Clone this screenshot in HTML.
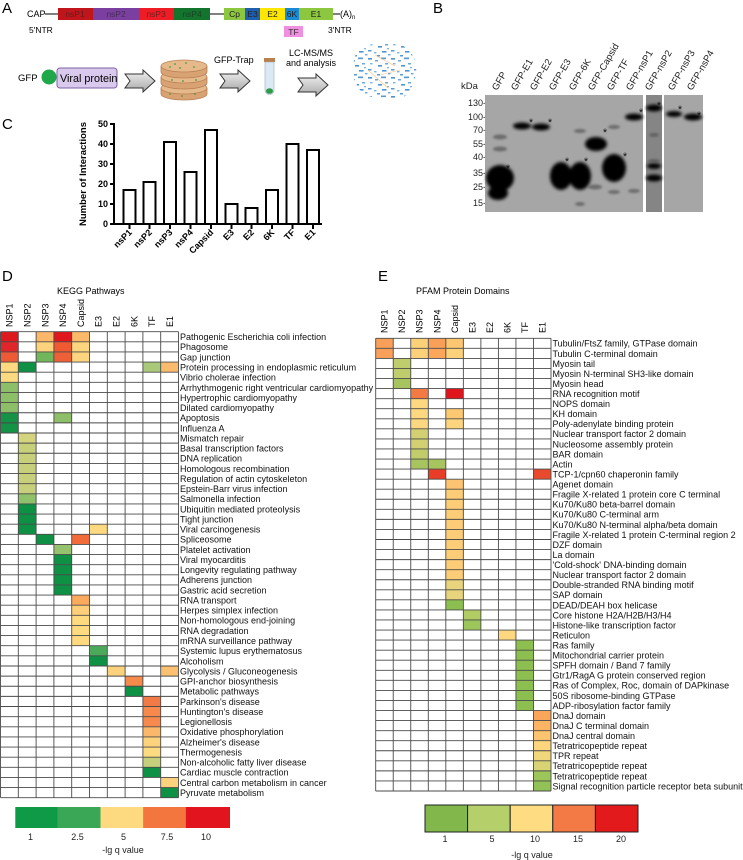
<!DOCTYPE html>
<html><head><meta charset="utf-8"><style>
html,body{margin:0;padding:0;background:#fff;}
svg{display:block;font-family:"Liberation Sans",Arial,sans-serif;}
</style></head><body>
<svg width="743" height="860" viewBox="0 0 743 860" xmlns="http://www.w3.org/2000/svg">
<defs>
<linearGradient id="arr" x1="0" y1="0" x2="0" y2="1"><stop offset="0" stop-color="#f2f2f2"/><stop offset="1" stop-color="#a8a8a8"/></linearGradient>
<pattern id="net" width="23" height="19" patternUnits="userSpaceOnUse">
<rect x="0" y="1" width="4" height="1.6" fill="#4f93d2"/><rect x="7" y="3" width="3" height="1.5" fill="#6aa8de"/><rect x="13" y="0.5" width="5" height="1.7" fill="#5a9bd5"/>
<rect x="2" y="6" width="2.5" height="1.4" fill="#7fb4e4"/><rect x="10" y="8" width="4" height="1.6" fill="#4f93d2"/><rect x="17" y="6" width="3" height="1.5" fill="#6aa8de"/>
<rect x="0" y="12" width="3.5" height="1.5" fill="#5a9bd5"/><rect x="6" y="14" width="2.5" height="1.4" fill="#7fb4e4"/><rect x="14" y="13" width="4.5" height="1.6" fill="#4f93d2"/>
<rect x="20" y="16" width="2.5" height="1.4" fill="#6aa8de"/><rect x="9" y="17" width="3" height="1.5" fill="#5a9bd5"/><rect x="19" y="10" width="2" height="1.3" fill="#7fb4e4"/>
</pattern>
<filter id="bl" x="-50%" y="-50%" width="200%" height="200%"><feGaussianBlur stdDeviation="1.6"/></filter>
<filter id="bl2" x="-50%" y="-50%" width="200%" height="200%"><feGaussianBlur stdDeviation="1"/></filter>
</defs>

<!-- Panel A -->
<text x="2" y="13" font-size="15">A</text>
<text x="27" y="17" font-size="9">CAP</text>
<line x1="45" y1="14" x2="58" y2="14" stroke="#000" stroke-width="1"/>
<rect x="58" y="8" width="35" height="12" fill="#c0161b"/>
<rect x="93" y="8" width="46" height="12" fill="#7b3fa0"/>
<rect x="139" y="8" width="35" height="12" fill="#ee1c24"/>
<rect x="174" y="8" width="36" height="12" fill="#13752d"/>
<line x1="210" y1="14" x2="224" y2="14" stroke="#000" stroke-width="1"/>
<rect x="224" y="8" width="21" height="12" fill="#8dc63f"/>
<rect x="245" y="8" width="15" height="12" fill="#1f5fb0"/>
<rect x="260" y="8" width="25" height="12" fill="#ffe600"/>
<rect x="285" y="8" width="14" height="12" fill="#1a8ad4"/>
<rect x="299" y="8" width="34" height="12" fill="#8dc63f"/>
<line x1="333" y1="14" x2="340" y2="14" stroke="#000" stroke-width="1"/>
<g font-size="8.5" text-anchor="middle" fill="#222">
<text x="75" y="17" fill-opacity="0.6">nsP1</text>
<text x="116" y="17" fill-opacity="0.6">nsP2</text>
<text x="156" y="17" fill-opacity="0.6">nsP3</text>
<text x="192" y="17" fill-opacity="0.6">nsP4</text>
<text x="234.5" y="17">Cp</text>
<text x="252.5" y="17">E3</text>
<text x="272.5" y="17">E2</text>
<text x="292" y="17">6K</text>
<text x="316" y="17">E1</text>
</g>
<text x="340" y="17" font-size="9">(A)<tspan font-size="6" dy="2">n</tspan></text>
<text x="29" y="33" font-size="8.5">5'NTR</text>
<text x="328" y="33" font-size="8.5">3'NTR</text>
<rect x="284" y="26" width="19" height="11" fill="#f08ee0"/>
<text x="293.5" y="35" font-size="8.5" text-anchor="middle" fill="#333">TF</text>

<text x="18" y="81" font-size="9.5">GFP</text>
<circle cx="49" cy="77" r="7.5" fill="#1ea84a"/>
<rect x="57" y="68" width="60" height="20" rx="3" fill="#d9c9ec" stroke="#7f62a3" stroke-width="1"/>
<text x="60" y="82" font-size="10.8">Viral protein</text>
<path d="M125,74 L143,74 L143,70 L155,81 L143,92 L143,88 L125,88 L130,81 Z" fill="url(#arr)" stroke="#333" stroke-width="1"/>
<!-- petri dishes -->
<g stroke="#b98157" stroke-width="0.8">
<path d="M161,88 L161,94 A23,6 0 0 0 207,94 L207,88 Z" fill="#d9a272"/>
<ellipse cx="184" cy="88" rx="23" ry="6" fill="#e6b98b"/>
<path d="M161,77 L161,83 A23,6 0 0 0 207,83 L207,77 Z" fill="#d9a272"/>
<ellipse cx="184" cy="77" rx="23" ry="6" fill="#e6b98b"/>
<path d="M161,66 L161,72 A23,6 0 0 0 207,72 L207,66 Z" fill="#d9a272"/>
<ellipse cx="184" cy="66" rx="23" ry="6" fill="#e6b98b"/>
</g>
<g fill="#4a9a45">
<circle cx="175" cy="64" r="0.9"/><circle cx="186" cy="63" r="0.9"/><circle cx="194" cy="67" r="0.9"/><circle cx="180" cy="68" r="0.9"/><circle cx="170" cy="67" r="0.9"/>
<circle cx="172" cy="80" r="0.9"/><circle cx="183" cy="81" r="0.9"/><circle cx="196" cy="80" r="0.9"/>
<circle cx="170" cy="94" r="0.9"/><circle cx="182" cy="96" r="0.9"/><circle cx="195" cy="94" r="0.9"/>
</g>
<text x="214" y="63" font-size="9">GFP-Trap</text>
<path d="M220,74 L238,74 L238,70 L250,81 L238,92 L238,88 L220,88 L225,81 Z" fill="url(#arr)" stroke="#333" stroke-width="1"/>
<!-- tube -->
<rect x="264" y="58" width="11" height="4" fill="#b8804a"/>
<path d="M265,62 L274,62 L274,90 A4.5,4.5 0 0 1 265,90 Z" fill="#dbe9f5" stroke="#9ab" stroke-width="0.6"/>
<ellipse cx="269.5" cy="91" rx="3.5" ry="2.8" fill="#2e9a48"/>
<text x="311" y="56" font-size="9" text-anchor="middle">LC-MS/MS</text>
<text x="311" y="66" font-size="9" text-anchor="middle">and analysis</text>
<path d="M298,78 L316,78 L316,74 L328,85 L316,96 L316,92 L298,92 L303,85 Z" fill="url(#arr)" stroke="#333" stroke-width="1"/>
<!-- network -->
<path d="M354,64 C352,52 366,42 380,44 C392,38 410,46 414,58 C420,70 412,80 414,88 C410,98 394,100 384,97 C370,100 358,92 356,82 C350,76 356,70 354,64 Z" fill="url(#net)"/>
<g stroke="#f0b060" stroke-width="0.6" opacity="0.8">
<line x1="375" y1="55" x2="395" y2="66"/><line x1="380" y1="75" x2="400" y2="70"/><line x1="368" y1="70" x2="388" y2="88"/>
</g>

<!-- Panel B -->
<text x="433" y="13" font-size="15">B</text>
<g font-size="9.5" fill="#222">
<text transform="translate(497,91) rotate(-60)">GFP</text>
<text transform="translate(516,91) rotate(-60)">GFP-E1</text>
<text transform="translate(535,91) rotate(-60)">GFP-E2</text>
<text transform="translate(554,91) rotate(-60)">GFP-E3</text>
<text transform="translate(574,91) rotate(-60)">GFP-6K</text>
<text transform="translate(593,91) rotate(-60)">GFP-Capsid</text>
<text transform="translate(612,91) rotate(-60)">GFP-TF</text>
<text transform="translate(631,91) rotate(-60)">GFP-nsP1</text>
<text transform="translate(650,91) rotate(-60)">GFP-nsP2</text>
<text transform="translate(673,91) rotate(-60)">GFP-nsP3</text>
<text transform="translate(692,91) rotate(-60)">GFP-nsP4</text>
</g>
<text x="461" y="89" font-size="9.5" fill="#222">kDa</text>
<g font-size="9" fill="#222" text-anchor="end">
<text x="486" y="106">130-</text>
<text x="486" y="120">100-</text>
<text x="486" y="133">70-</text>
<text x="486" y="147">55-</text>
<text x="486" y="160">40-</text>
<text x="486" y="176">35-</text>
<text x="486" y="190">25-</text>
<text x="486" y="206">15-</text>
</g>
<rect x="485" y="95" width="158" height="117" fill="#a6a6a6"/>
<rect x="646" y="95" width="16" height="117" fill="#858585"/>
<rect x="664" y="95" width="39" height="117" fill="#a6a6a6"/>
<g fill="#000" filter="url(#bl)">
<ellipse cx="500" cy="178" rx="14" ry="13"/>
<ellipse cx="498" cy="193" rx="10" ry="7"/>
<ellipse cx="522" cy="126" rx="9" ry="3.5"/>
<ellipse cx="541" cy="127" rx="9" ry="3.5"/>
<ellipse cx="561" cy="176" rx="11" ry="14"/>
<ellipse cx="580" cy="176" rx="11" ry="14"/>
<ellipse cx="596" cy="144" rx="11" ry="7"/>
<ellipse cx="614" cy="168" rx="12" ry="14"/>
<ellipse cx="634" cy="117" rx="9" ry="3.5"/>
<ellipse cx="654" cy="108" rx="8" ry="3.5"/>
<ellipse cx="654" cy="166" rx="7" ry="3"/>
<ellipse cx="654" cy="178" rx="8" ry="3.5"/>
<ellipse cx="674" cy="114" rx="8" ry="3"/>
<ellipse cx="693" cy="117" rx="9" ry="3.5"/>
</g>
<g fill="#555" filter="url(#bl2)" opacity="0.7">
<ellipse cx="500" cy="137" rx="7" ry="2.5"/>
<ellipse cx="500" cy="149" rx="7" ry="2.5"/>
<ellipse cx="595" cy="187" rx="7" ry="2.5"/>
<ellipse cx="580" cy="131" rx="6" ry="2"/>
<ellipse cx="614" cy="127" rx="6" ry="2"/>
<ellipse cx="634" cy="191" rx="6" ry="2"/>
<ellipse cx="614" cy="192" rx="6" ry="2"/>
<ellipse cx="580" cy="204" rx="5" ry="2"/>
<ellipse cx="654" cy="161" rx="6" ry="2"/>
<ellipse cx="654" cy="135" rx="5" ry="2"/>
</g>
<g font-size="11" fill="#111" text-anchor="middle">
<text x="508" y="172">*</text>
<text x="531" y="126">*</text>
<text x="550" y="126">*</text>
<text x="567" y="165">*</text>
<text x="586" y="165">*</text>
<text x="605" y="136">*</text>
<text x="625" y="160">*</text>
<text x="641" y="116">*</text>
<text x="659" y="109">*</text>
<text x="680" y="113">*</text>
<text x="699" y="119">*</text>
</g>

<!-- Panel C -->
<text x="2" y="129" font-size="15">C</text>
<text transform="translate(86,174) rotate(-90)" font-size="9.5" font-weight="bold" text-anchor="middle">Number of Interactions</text>
<g font-size="9" font-weight="bold" text-anchor="end">
<text x="108" y="127">50</text>
<text x="108" y="147">40</text>
<text x="108" y="167">30</text>
<text x="108" y="187">20</text>
<text x="108" y="207">10</text>
<text x="108" y="227">0</text>
</g>
<g stroke="#000" stroke-width="2" fill="#fff">
<line x1="114" y1="123" x2="114" y2="225"/>
<line x1="110" y1="124" x2="114" y2="124"/><line x1="110" y1="144" x2="114" y2="144"/><line x1="110" y1="164" x2="114" y2="164"/><line x1="110" y1="184" x2="114" y2="184"/><line x1="110" y1="204" x2="114" y2="204"/><line x1="110" y1="224" x2="114" y2="224"/>
<rect x="123.5" y="190" width="12" height="34"/>
<rect x="143.5" y="182" width="12" height="42"/>
<rect x="164" y="142" width="12" height="82"/>
<rect x="184.5" y="172" width="12" height="52"/>
<rect x="205" y="130" width="12" height="94"/>
<rect x="225.5" y="204" width="12" height="20"/>
<rect x="245.5" y="208" width="12" height="16"/>
<rect x="266" y="190" width="12" height="34"/>
<rect x="286.5" y="144" width="12" height="80"/>
<rect x="307" y="150" width="12" height="74"/>
<line x1="113" y1="224" x2="322" y2="224"/>
<line x1="129.5" y1="224" x2="129.5" y2="229"/><line x1="149.5" y1="224" x2="149.5" y2="229"/><line x1="170" y1="224" x2="170" y2="229"/><line x1="190.5" y1="224" x2="190.5" y2="229"/><line x1="211" y1="224" x2="211" y2="229"/><line x1="231.5" y1="224" x2="231.5" y2="229"/><line x1="251.5" y1="224" x2="251.5" y2="229"/><line x1="272" y1="224" x2="272" y2="229"/><line x1="292.5" y1="224" x2="292.5" y2="229"/><line x1="313" y1="224" x2="313" y2="229"/>
</g>
<g font-size="9" font-weight="bold" text-anchor="end">
<text transform="translate(132.5,233) rotate(-45)">nsP1</text>
<text transform="translate(152.5,233) rotate(-45)">nsP2</text>
<text transform="translate(173,233) rotate(-45)">nsP3</text>
<text transform="translate(193.5,233) rotate(-45)">nsP4</text>
<text transform="translate(214,233) rotate(-45)">Capsid</text>
<text transform="translate(234.5,233) rotate(-45)">E3</text>
<text transform="translate(254.5,233) rotate(-45)">E2</text>
<text transform="translate(275,233) rotate(-45)">6K</text>
<text transform="translate(295.5,233) rotate(-45)">TF</text>
<text transform="translate(316,233) rotate(-45)">E1</text>
</g>

<!-- Panel D -->
<text x="2" y="281" font-size="15">D</text>
<text x="57" y="294" font-size="9">KEGG Pathways</text>
<g font-size="9">
<text transform="translate(12.7,327) rotate(-90)">NSP1</text>
<text transform="translate(30.5,327) rotate(-90)">NSP2</text>
<text transform="translate(48.3,327) rotate(-90)">NSP3</text>
<text transform="translate(66.1,327) rotate(-90)">NSP4</text>
<text transform="translate(83.9,327) rotate(-90)">Capsid</text>
<text transform="translate(101.7,327) rotate(-90)">E3</text>
<text transform="translate(119.5,327) rotate(-90)">E2</text>
<text transform="translate(137.3,327) rotate(-90)">6K</text>
<text transform="translate(155.1,327) rotate(-90)">TF</text>
<text transform="translate(172.9,327) rotate(-90)">E1</text>
</g>
<g transform="translate(0.5,331.7) scale(17.8,10.13)">
<rect x="0" y="0" width="1" height="1" fill="#de1a1e"/><rect x="2" y="0" width="1" height="1" fill="#fbb76a"/><rect x="3" y="0" width="1" height="1" fill="#e0181d"/><rect x="4" y="0" width="1" height="1" fill="#fbb96a"/>
<rect x="0" y="1" width="1" height="1" fill="#e0262a"/><rect x="2" y="1" width="1" height="1" fill="#fdd27c"/><rect x="3" y="1" width="1" height="1" fill="#ef5a33"/><rect x="4" y="1" width="1" height="1" fill="#fdd57e"/>
<rect x="0" y="2" width="1" height="1" fill="#ec5b36"/><rect x="2" y="2" width="1" height="1" fill="#72b65c"/><rect x="3" y="2" width="1" height="1" fill="#ee6038"/><rect x="4" y="2" width="1" height="1" fill="#fdd57e"/>
<rect x="0" y="3" width="1" height="1" fill="#fdd980"/><rect x="1" y="3" width="1" height="1" fill="#0f9145"/><rect x="8" y="3" width="1" height="1" fill="#a9c979"/><rect x="9" y="3" width="1" height="1" fill="#fbbb6d"/>
<rect x="0" y="4" width="1" height="1" fill="#fdd980"/>
<rect x="0" y="5" width="1" height="3" fill="#8dbf68"/>
<rect x="0" y="8" width="1" height="2" fill="#149246"/><rect x="3" y="8" width="1" height="1" fill="#8dbf68"/>
<rect x="1" y="10" width="1" height="1" fill="#d4d47f"/>
<rect x="1" y="11" width="1" height="5" fill="#c8cf7a"/>
<rect x="1" y="16" width="1" height="1" fill="#8fc06a"/>
<rect x="1" y="17" width="1" height="3" fill="#0f9145"/>
<rect x="5" y="19" width="1" height="1" fill="#fdd980"/>
<rect x="2" y="20" width="1" height="1" fill="#0f9145"/><rect x="4" y="20" width="1" height="1" fill="#f26b3a"/>
<rect x="3" y="21" width="1" height="1" fill="#95c26c"/>
<rect x="3" y="22" width="1" height="4" fill="#0f9145"/>
<rect x="4" y="26" width="1" height="1" fill="#fba95c"/>
<rect x="4" y="27" width="1" height="1" fill="#fdcf7a"/>
<rect x="4" y="28" width="1" height="3" fill="#fdd980"/>
<rect x="5" y="31" width="1" height="1" fill="#4aaa5a"/>
<rect x="5" y="32" width="1" height="1" fill="#0f9145"/>
<rect x="6" y="33" width="1" height="1" fill="#fdd27c"/><rect x="9" y="33" width="1" height="1" fill="#fbc070"/>
<rect x="7" y="34" width="1" height="1" fill="#f68a4b"/>
<rect x="7" y="35" width="1" height="1" fill="#0f9145"/>
<rect x="8" y="36" width="1" height="1" fill="#f47a45"/>
<rect x="8" y="37" width="1" height="2" fill="#f6894b"/>
<rect x="8" y="39" width="1" height="1" fill="#fbb86b"/>
<rect x="8" y="40" width="1" height="1" fill="#fdd27c"/>
<rect x="8" y="41" width="1" height="1" fill="#fdd980"/>
<rect x="8" y="42" width="1" height="1" fill="#c5cf7c"/>
<rect x="8" y="43" width="1" height="1" fill="#0f9145"/>
<rect x="9" y="44" width="1" height="1" fill="#fdd27c"/>
<rect x="9" y="45" width="1" height="1" fill="#0f9145"/>
<path fill="none" stroke="#4a4a4a" stroke-width="0.9" vector-effect="non-scaling-stroke" d="M0 0H10M0 1H10M0 2H10M0 3H10M0 4H10M0 5H10M0 6H10M0 7H10M0 8H10M0 9H10M0 10H10M0 11H10M0 12H10M0 13H10M0 14H10M0 15H10M0 16H10M0 17H10M0 18H10M0 19H10M0 20H10M0 21H10M0 22H10M0 23H10M0 24H10M0 25H10M0 26H10M0 27H10M0 28H10M0 29H10M0 30H10M0 31H10M0 32H10M0 33H10M0 34H10M0 35H10M0 36H10M0 37H10M0 38H10M0 39H10M0 40H10M0 41H10M0 42H10M0 43H10M0 44H10M0 45H10M0 46H10M0 0V46M1 0V46M2 0V46M3 0V46M4 0V46M5 0V46M6 0V46M7 0V46M8 0V46M9 0V46M10 0V46"/>
</g>
<text x="180" y="340.1" font-size="9" fill="#111">
<tspan x="180">Pathogenic Escherichia coli infection</tspan>
<tspan x="180" dy="10.13">Phagosome</tspan>
<tspan x="180" dy="10.13">Gap junction</tspan>
<tspan x="180" dy="10.13">Protein processing in endoplasmic reticulum</tspan>
<tspan x="180" dy="10.13">Vibrio cholerae infection</tspan>
<tspan x="180" dy="10.13">Arrhythmogenic right ventricular cardiomyopathy</tspan>
<tspan x="180" dy="10.13">Hypertrophic cardiomyopathy</tspan>
<tspan x="180" dy="10.13">Dilated cardiomyopathy</tspan>
<tspan x="180" dy="10.13">Apoptosis</tspan>
<tspan x="180" dy="10.13">Influenza A</tspan>
<tspan x="180" dy="10.13">Mismatch repair</tspan>
<tspan x="180" dy="10.13">Basal transcription factors</tspan>
<tspan x="180" dy="10.13">DNA replication</tspan>
<tspan x="180" dy="10.13">Homologous recombination</tspan>
<tspan x="180" dy="10.13">Regulation of actin cytoskeleton</tspan>
<tspan x="180" dy="10.13">Epstein-Barr virus infection</tspan>
<tspan x="180" dy="10.13">Salmonella infection</tspan>
<tspan x="180" dy="10.13">Ubiquitin mediated proteolysis</tspan>
<tspan x="180" dy="10.13">Tight junction</tspan>
<tspan x="180" dy="10.13">Viral carcinogenesis</tspan>
<tspan x="180" dy="10.13">Spliceosome</tspan>
<tspan x="180" dy="10.13">Platelet activation</tspan>
<tspan x="180" dy="10.13">Viral myocarditis</tspan>
<tspan x="180" dy="10.13">Longevity regulating pathway</tspan>
<tspan x="180" dy="10.13">Adherens junction</tspan>
<tspan x="180" dy="10.13">Gastric acid secretion</tspan>
<tspan x="180" dy="10.13">RNA transport</tspan>
<tspan x="180" dy="10.13">Herpes simplex infection</tspan>
<tspan x="180" dy="10.13">Non-homologous end-joining</tspan>
<tspan x="180" dy="10.13">RNA degradation</tspan>
<tspan x="180" dy="10.13">mRNA surveillance pathway</tspan>
<tspan x="180" dy="10.13">Systemic lupus erythematosus</tspan>
<tspan x="180" dy="10.13">Alcoholism</tspan>
<tspan x="180" dy="10.13">Glycolysis / Gluconeogenesis</tspan>
<tspan x="180" dy="10.13">GPI-anchor biosynthesis</tspan>
<tspan x="180" dy="10.13">Metabolic pathways</tspan>
<tspan x="180" dy="10.13">Parkinson's disease</tspan>
<tspan x="180" dy="10.13">Huntington's disease</tspan>
<tspan x="180" dy="10.13">Legionellosis</tspan>
<tspan x="180" dy="10.13">Oxidative phosphorylation</tspan>
<tspan x="180" dy="10.13">Alzheimer's disease</tspan>
<tspan x="180" dy="10.13">Thermogenesis</tspan>
<tspan x="180" dy="10.13">Non-alcoholic fatty liver disease</tspan>
<tspan x="180" dy="10.13">Cardiac muscle contraction</tspan>
<tspan x="180" dy="10.13">Central carbon metabolism in cancer</tspan>
<tspan x="180" dy="10.13">Pyruvate metabolism</tspan>
</text>
<!-- D legend -->
<rect x="15.3" y="807" width="42.6" height="21" fill="#0f9a48"/>
<rect x="57.9" y="807" width="42.6" height="21" fill="#3aa757"/>
<rect x="100.5" y="807" width="42.6" height="21" fill="#fdda7f"/>
<rect x="143.1" y="807" width="42.6" height="21" fill="#f4763f"/>
<rect x="185.7" y="807" width="44.3" height="21" fill="#e2141e"/>
<g font-size="9" text-anchor="middle" fill="#222">
<text x="30.5" y="840">1</text>
<text x="77.5" y="840">2.5</text>
<text x="123.5" y="840">5</text>
<text x="167" y="840">7.5</text>
<text x="206" y="840">10</text>
<text x="123" y="853">-lg q value</text>
</g>

<!-- Panel E -->
<text x="378" y="281" font-size="15">E</text>
<text x="416" y="294" font-size="9">PFAM Protein Domains</text>
<g font-size="9">
<text transform="translate(387.7,333) rotate(-90)">NSP1</text>
<text transform="translate(405.2,333) rotate(-90)">NSP2</text>
<text transform="translate(422.7,333) rotate(-90)">NSP3</text>
<text transform="translate(440.3,333) rotate(-90)">NSP4</text>
<text transform="translate(457.8,333) rotate(-90)">Capsid</text>
<text transform="translate(475.3,333) rotate(-90)">E3</text>
<text transform="translate(492.8,333) rotate(-90)">E2</text>
<text transform="translate(510.4,333) rotate(-90)">6K</text>
<text transform="translate(527.9,333) rotate(-90)">TF</text>
<text transform="translate(545.4,333) rotate(-90)">E1</text>
</g>
<g transform="translate(375.7,338.3) scale(17.53,10.06)">
<rect x="0" y="0" width="1" height="2" fill="#f8a05a"/><rect x="2" y="0" width="1" height="2" fill="#fdd07a"/><rect x="3" y="0" width="1" height="1" fill="#f8a05a"/><rect x="4" y="0" width="1" height="1" fill="#fdc670"/>
<rect x="3" y="1" width="1" height="1" fill="#fca65c"/><rect x="4" y="1" width="1" height="1" fill="#fdd07a"/>
<rect x="1" y="2" width="1" height="2" fill="#c0cd6c"/>
<rect x="1" y="4" width="1" height="1" fill="#a8c45f"/>
<rect x="2" y="5" width="1" height="1" fill="#f37a43"/><rect x="4" y="5" width="1" height="1" fill="#e0141c"/>
<rect x="2" y="6" width="1" height="3" fill="#fdd880"/>
<rect x="4" y="7" width="1" height="1" fill="#fcc872"/><rect x="4" y="8" width="1" height="1" fill="#fdd57e"/>
<rect x="2" y="9" width="1" height="2" fill="#d2d072"/>
<rect x="2" y="11" width="1" height="1" fill="#c2cc6a"/>
<rect x="2" y="12" width="1" height="1" fill="#a8c45f"/><rect x="3" y="12" width="1" height="1" fill="#a8c45f"/>
<rect x="3" y="13" width="1" height="1" fill="#e83d26"/><rect x="9" y="13" width="1" height="1" fill="#ea4a2c"/>
<rect x="4" y="14" width="1" height="1" fill="#fcc470"/>
<rect x="4" y="15" width="1" height="9" fill="#fdcc76"/>
<rect x="4" y="24" width="1" height="2" fill="#e8d47c"/>
<rect x="4" y="26" width="1" height="1" fill="#8cbf4f"/>
<rect x="5" y="27" width="1" height="1" fill="#b0cc62"/>
<rect x="5" y="28" width="1" height="1" fill="#9cc55a"/>
<rect x="7" y="29" width="1" height="1" fill="#fdd880"/>
<rect x="8" y="30" width="1" height="7" fill="#8cbf4f"/>
<rect x="9" y="37" width="1" height="1" fill="#f9a55a"/>
<rect x="9" y="38" width="1" height="1" fill="#fbb463"/>
<rect x="9" y="39" width="1" height="1" fill="#fcc46e"/>
<rect x="9" y="40" width="1" height="1" fill="#fdd57e"/>
<rect x="9" y="41" width="1" height="1" fill="#f0d77c"/>
<rect x="9" y="42" width="1" height="1" fill="#d8d476"/>
<rect x="9" y="43" width="1" height="1" fill="#9cc55a"/>
<rect x="9" y="44" width="1" height="1" fill="#92c255"/>
<path fill="none" stroke="#4a4a4a" stroke-width="0.9" vector-effect="non-scaling-stroke" d="M0 0H10M0 1H10M0 2H10M0 3H10M0 4H10M0 5H10M0 6H10M0 7H10M0 8H10M0 9H10M0 10H10M0 11H10M0 12H10M0 13H10M0 14H10M0 15H10M0 16H10M0 17H10M0 18H10M0 19H10M0 20H10M0 21H10M0 22H10M0 23H10M0 24H10M0 25H10M0 26H10M0 27H10M0 28H10M0 29H10M0 30H10M0 31H10M0 32H10M0 33H10M0 34H10M0 35H10M0 36H10M0 37H10M0 38H10M0 39H10M0 40H10M0 41H10M0 42H10M0 43H10M0 44H10M0 45H10M0 0V45M1 0V45M2 0V45M3 0V45M4 0V45M5 0V45M6 0V45M7 0V45M8 0V45M9 0V45M10 0V45"/>
</g>
<text x="552.5" y="346.7" font-size="9" fill="#111">
<tspan x="552.5">Tubulin/FtsZ family, GTPase domain</tspan>
<tspan x="552.5" dy="10.06">Tubulin C-terminal domain</tspan>
<tspan x="552.5" dy="10.06">Myosin tail</tspan>
<tspan x="552.5" dy="10.06">Myosin N-terminal SH3-like domain</tspan>
<tspan x="552.5" dy="10.06">Myosin head</tspan>
<tspan x="552.5" dy="10.06">RNA recognition motif</tspan>
<tspan x="552.5" dy="10.06">NOPS domain</tspan>
<tspan x="552.5" dy="10.06">KH domain</tspan>
<tspan x="552.5" dy="10.06">Poly-adenylate binding protein</tspan>
<tspan x="552.5" dy="10.06">Nuclear transport factor 2 domain</tspan>
<tspan x="552.5" dy="10.06">Nucleosome assembly protein</tspan>
<tspan x="552.5" dy="10.06">BAR domain</tspan>
<tspan x="552.5" dy="10.06">Actin</tspan>
<tspan x="552.5" dy="10.06">TCP-1/cpn60 chaperonin family</tspan>
<tspan x="552.5" dy="10.06">Agenet domain</tspan>
<tspan x="552.5" dy="10.06">Fragile X-related 1 protein core C terminal</tspan>
<tspan x="552.5" dy="10.06">Ku70/Ku80 beta-barrel domain</tspan>
<tspan x="552.5" dy="10.06">Ku70/Ku80 C-terminal arm</tspan>
<tspan x="552.5" dy="10.06">Ku70/Ku80 N-terminal alpha/beta domain</tspan>
<tspan x="552.5" dy="10.06">Fragile X-related 1 protein C-terminal region 2</tspan>
<tspan x="552.5" dy="10.06">DZF domain</tspan>
<tspan x="552.5" dy="10.06">La domain</tspan>
<tspan x="552.5" dy="10.06">'Cold-shock' DNA-binding domain</tspan>
<tspan x="552.5" dy="10.06">Nuclear transport factor 2 domain</tspan>
<tspan x="552.5" dy="10.06">Double-stranded RNA binding motif</tspan>
<tspan x="552.5" dy="10.06">SAP domain</tspan>
<tspan x="552.5" dy="10.06">DEAD/DEAH box helicase</tspan>
<tspan x="552.5" dy="10.06">Core histone H2A/H2B/H3/H4</tspan>
<tspan x="552.5" dy="10.06">Histone-like transcription factor</tspan>
<tspan x="552.5" dy="10.06">Reticulon</tspan>
<tspan x="552.5" dy="10.06">Ras family</tspan>
<tspan x="552.5" dy="10.06">Mitochondrial carrier protein</tspan>
<tspan x="552.5" dy="10.06">SPFH domain / Band 7 family</tspan>
<tspan x="552.5" dy="10.06">Gtr1/RagA G protein conserved region</tspan>
<tspan x="552.5" dy="10.06">Ras of Complex, Roc, domain of DAPkinase</tspan>
<tspan x="552.5" dy="10.06">50S ribosome-binding GTPase</tspan>
<tspan x="552.5" dy="10.06">ADP-ribosylation factor family</tspan>
<tspan x="552.5" dy="10.06">DnaJ domain</tspan>
<tspan x="552.5" dy="10.06">DnaJ C terminal domain</tspan>
<tspan x="552.5" dy="10.06">DnaJ central domain</tspan>
<tspan x="552.5" dy="10.06">Tetratricopeptide repeat</tspan>
<tspan x="552.5" dy="10.06">TPR repeat</tspan>
<tspan x="552.5" dy="10.06">Tetratricopeptide repeat</tspan>
<tspan x="552.5" dy="10.06">Tetratricopeptide repeat</tspan>
<tspan x="552.5" dy="10.06">Signal recognition particle receptor beta subunit</tspan>
</text>
<!-- E legend -->
<g stroke="#222" stroke-width="1">
<rect x="425" y="805" width="42.6" height="27" fill="#82b74b"/>
<rect x="467.6" y="805" width="42.6" height="27" fill="#b5cf6b"/>
<rect x="510.2" y="805" width="42.6" height="27" fill="#fddc82"/>
<rect x="552.8" y="805" width="42.6" height="27" fill="#f47a45"/>
<rect x="595.4" y="805" width="42.6" height="27" fill="#e31a1c"/>
</g>
<g font-size="9" text-anchor="middle" fill="#222">
<text x="445" y="842">1</text>
<text x="492" y="842">5</text>
<text x="535" y="842">10</text>
<text x="578" y="842">15</text>
<text x="621" y="842">20</text>
<text x="532" y="858">-lg q value</text>
</g>
</svg>
</body></html>
